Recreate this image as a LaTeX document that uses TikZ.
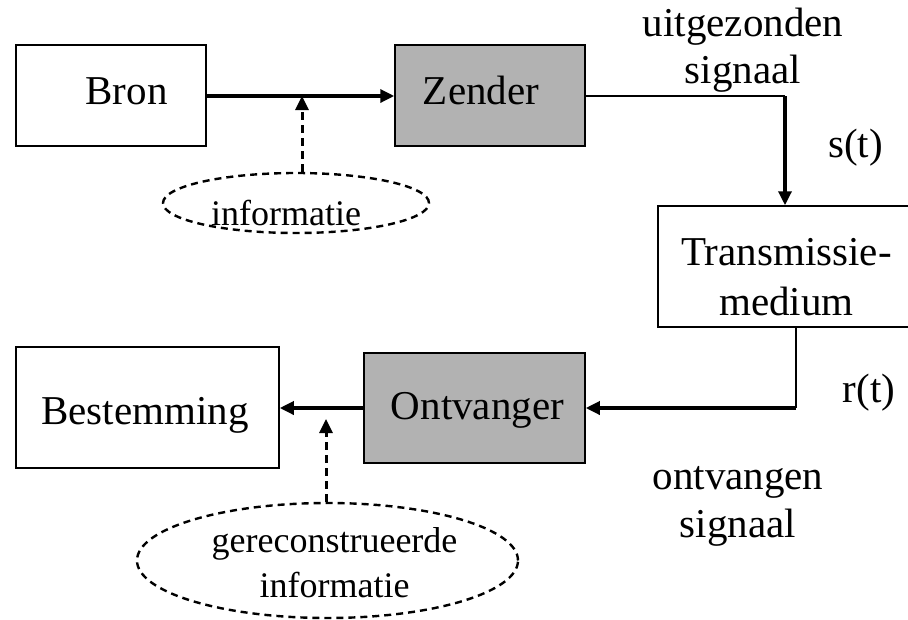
\documentclass[tikz,border=0pt]{standalone}
\usepackage{fontspec}
\setmainfont{Liberation Serif}
\usetikzlibrary{arrows.meta,shapes.geometric}
\definecolor{boxgray}{RGB}{178,178,178}
\begin{document}
\begin{tikzpicture}[x=1pt,y=-1pt,
  box/.style={draw=black, line width=1.5pt, rectangle, inner sep=0pt},
  shaded/.style={box, fill=boxgray},
  big/.style={inner sep=0pt, anchor=base, align=center, font=\fontsize{41}{48}\selectfont},
  small/.style={inner sep=0pt, anchor=base, align=center, font=\fontsize{36}{45}\selectfont},
  cloud/.style={draw=black, ellipse, inner sep=0pt, line width=2.4pt, dash pattern=on 7pt off 5pt},
  thickarrow/.style={line width=3.3pt, -{Triangle[length=14pt,width=13pt]}},
  thinline/.style={line width=1.5pt},
  dasharrow/.style={line width=3pt, dash pattern=on 8pt off 5pt, -{Triangle[length=14pt,width=13pt]}}
]
\useasboundingbox (0,0) rectangle (908,619);
\clip (0,0) rectangle (908,619);

% boxes
\node[box, minimum width=190pt, minimum height=101pt] (bron) at (111,95.5) {};
\node[shaded, minimum width=190pt, minimum height=101pt] (zender) at (490,95.5) {};
\node[box, minimum width=256pt, minimum height=121pt] (trans) at (786,266.5) {};
\node[shaded, minimum width=221pt, minimum height=110pt] (ontv) at (474.5,408) {};
\node[box, minimum width=263pt, minimum height=121pt] (best) at (147.5,407.5) {};

% box texts (anchor=base of a two-line node is the baseline of its last line)
\node[big] (bronT) at (126.5,104) {Bron};
\node[big] (zenderT) at (481,104) {Zender};
\node[big, font=\fontsize{41}{50}\selectfont] (transT) at (786.5,315) {Transmissie-\\medium};
\node[big] (ontvT) at (477.5,419) {Ontvanger};
\node[big] (bestT) at (145,424) {Bestemming};

% ellipses
\node[cloud, minimum width=266pt, minimum height=60pt] (info) at (296,203) {};
\node[small] (infoT) at (286,225) {informatie};
\node[cloud, minimum width=381pt, minimum height=115pt] (recon) at (327.5,560.5) {};
\node[small] (reconT) at (334.5,597) {gereconstrueerde\\informatie};

% signal labels
\node[big, font=\fontsize{41}{47}\selectfont] (uitT) at (743,83) {uitgezonden\\signaal};
\node[big] (stT) at (855.5,157) {s(t)};
\node[big] (rtT) at (869,402) {r(t)};
\node[big] (ontvangenT) at (738,537) {ontvangen\\signaal};

% connectors
\coordinate (m1) at (302,96);
\coordinate (c1) at (785,96);
\coordinate (c2) at (796,408);
\coordinate (m2) at (326,419);

\draw[thickarrow] (bron.east |- m1) -- (zender.west |- m1);
\draw[dasharrow] (m1 |- info.north) -- (m1);
\draw[thinline] (zender.east |- c1) -- (c1);
\draw[thickarrow] (c1) -- (c1 |- trans.north);
\draw[thinline] (c2 |- trans.south) -- (c2);
\draw[thickarrow] (c2) -- (ontv.east |- c2);
\draw[thickarrow] (ontv.west |- c2) -- (best.east |- c2);
\draw[dasharrow] (m2 |- recon.north) -- (m2);
\end{tikzpicture}
\end{document}
